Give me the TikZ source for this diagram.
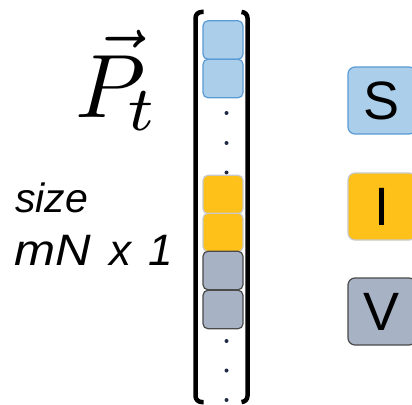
\documentclass[tikz,border=0pt]{standalone}
\usepackage{fontspec}
\newfontfamily\lsans{Liberation Sans}
\definecolor{sfill}{HTML}{ABCEEA}
\definecolor{sdraw}{HTML}{5B9BD5}
\definecolor{ifill}{HTML}{FDC11A}
\definecolor{idraw}{HTML}{C9C9C9}
\definecolor{vfill}{HTML}{A7B3C4}
\definecolor{vdraw}{HTML}{4A4A4A}
\definecolor{dotc}{HTML}{1F2A44}
\tikzset{
  cell/.style={rounded corners=5pt, line width=1.2pt, minimum width=40pt,
    minimum height=38.5pt, inner sep=0pt, draw=#1draw, fill=#1fill},
  legend/.style={rounded corners=7pt, line width=1.2pt, minimum width=68pt,
    minimum height=67pt, inner sep=0pt, draw=#1draw, fill=#1fill,
    font=\lsans\fontsize{54}{54}\selectfont},
  vdot/.style={circle, fill=dotc, inner sep=0pt, minimum size=4pt},
  bracket/.style={line width=4.5pt, line cap=butt, rounded corners=6pt},
  sizetext/.style={anchor=base west, inner sep=0pt, font=\lsans\itshape\fontsize{#1}{#1}\selectfont}
}
\begin{document}
\begin{tikzpicture}[x=1pt,y=-1pt]
\useasboundingbox (0,0) rectangle (412,404);
\fill[white] (0,0) rectangle (412,404);

% vector label and its size
\node[anchor=base west, inner sep=0pt, scale=9] (pt) at (74,117) {$\vec{P}_{\mkern-1.5mu t}$};
\node[sizetext=41] (sz) at (15,212) {size};
\node[sizetext=44] (mn) at (14,265) {\scalebox{1.12}[1]{mN}\hspace{19pt}x\hspace{17pt}1};

% column entries
\node[cell=s] (b1) at (223,40) {};
\node[cell=s] (b2) at (223,78.5) {};
\node[vdot] (d1) at (226.5,113) {};
\node[vdot] (d2) at (226.5,143) {};
\node[vdot] (d3) at (226.5,172.5) {};
\node[cell=i] (y1) at (223,194.5) {};
\node[cell=i] (y2) at (223,232.5) {};
\node[cell=v] (g1) at (223,270.5) {};
\node[cell=v] (g2) at (223,309.5) {};
\node[vdot] (d4) at (226.5,341) {};
\node[vdot] (d5) at (226.5,370.5) {};
\node[vdot] (d6) at (226.5,400) {};

% brackets
\draw[bracket] (203.5,12) -- (195.5,12) -- (195.5,402) -- (203.5,402);
\draw[bracket] (241.5,12) -- (247.5,12) -- (247.5,402) -- (241.5,402);

% legend
\node[legend=s] (ls) at (382,100.5) {S};
\node[legend=i] (li) at (382,206.5) {I};
\node[legend=v] (lv) at (382,311.5) {V};
\end{tikzpicture}
\end{document}
